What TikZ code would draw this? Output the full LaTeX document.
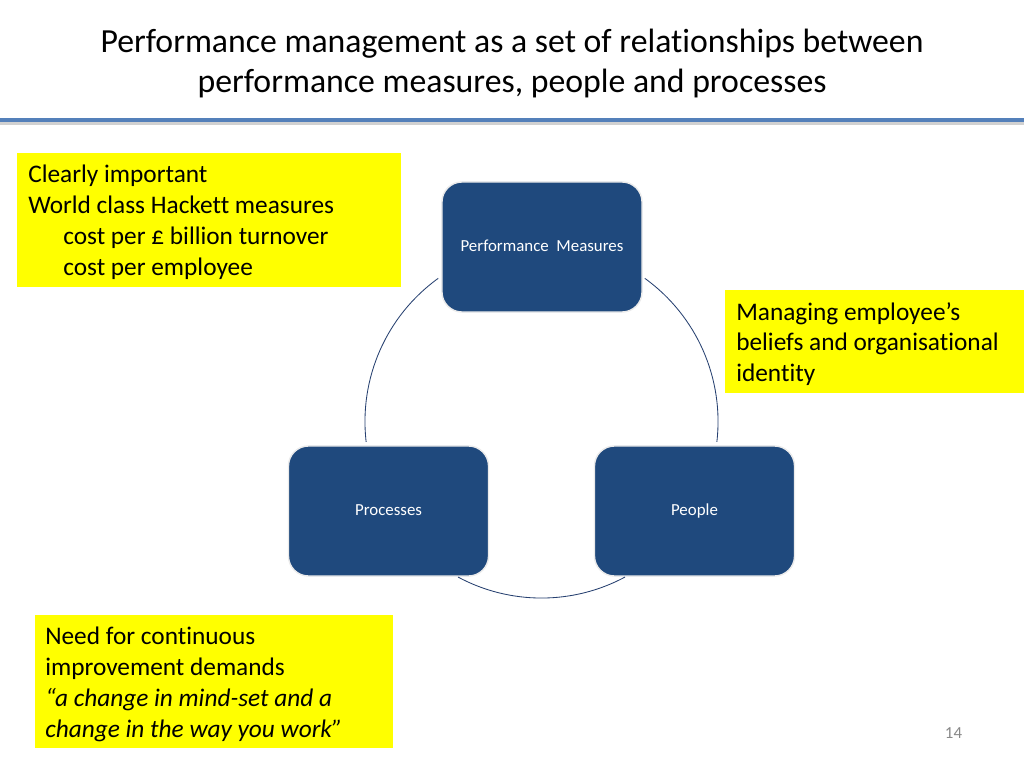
\documentclass[tikz,border=0pt]{standalone}
\usepackage{fontspec}
\setmainfont{Carlito}[Ligatures=NoCommon]
\usepackage{tikz}
\usetikzlibrary{positioning}
\usepackage{xcolor}
\definecolor{boxnavy}{RGB}{31,73,125}
\definecolor{arcnavy}{RGB}{38,64,112}
\definecolor{ruleblue}{RGB}{84,128,186}
\definecolor{noteyellow}{RGB}{255,255,0}
\definecolor{pagegray}{RGB}{137,137,137}

\begin{document}
\begin{tikzpicture}[
    x=0.025cm, y=-0.025cm,
    stage/.style={rectangle, rounded corners=0.5cm, fill=boxnavy, draw=black!8,
                  line width=1pt, minimum width=5cm, minimum height=3.25cm,
                  text height=1.6ex, text depth=0.4ex,
                  text=white, font=\fontsize{12}{14}\selectfont},
    notebox/.style={rectangle, fill=noteyellow, inner sep=0pt, anchor=north west},
    notetext/.style={anchor=north west, align=left, inner sep=0pt,
                     font=\fontsize{18}{21.9}\selectfont},
    link/.style={arcnavy, line width=0.6pt}
]
    \useasboundingbox[fill=white] (0,0) rectangle (1024,768);

    % Title and rule
    \node[align=center, font=\fontsize{24}{28.5}\selectfont, anchor=base] (title) at (512,93)
        {Performance management as a set of relationships between\\
         performance measures, people and processes};
    \coordinate (ruleL) at (0,120);
    \coordinate (ruleR) at (1024,120);
    \draw[black!18, line width=2.5pt] ([yshift=-2.5pt]ruleL) -- ([yshift=-2.5pt]ruleR);
    \draw[ruleblue, line width=2.2pt] (ruleL) -- (ruleR);

    % Cycle
    \node[stage] (measures) at (542,247) {Performance\ \ Measures};
    \node[stage] (processes) at (388.5,511) {Processes};
    \node[stage] (people) at (694.5,511) {People};
    \coordinate (hub) at (541.5,421.5);
    \draw[link] (hub) ++(125.8:4.4125cm) arc[start angle=125.8, end angle=186.6, radius=4.4125cm];
    \draw[link] (hub) ++(54.2:4.4125cm) arc[start angle=54.2, end angle=-6.6, radius=4.4125cm];
    \draw[link] (hub) ++(241.8:4.4125cm) arc[start angle=241.8, end angle=298.2, radius=4.4125cm];

    % Notes
    \node[notebox, minimum width=9.6cm, minimum height=3.35cm] (hackettbox) at (17,153) {};
    \node[notetext] (hackett) at (28,165)
        {Clearly important\\
         World class Hackett measures\\
         \hspace*{0.875cm}cost per £ billion turnover\\
         \hspace*{0.875cm}cost per employee};

    \node[notebox, minimum width=7.475cm, minimum height=2.575cm] (beliefsbox) at (725,290) {};
    \node[notetext] (beliefs) at (736,302)
        {Managing employee’s\\
         beliefs and organisational\\
         identity};

    \node[notebox, minimum width=8.95cm, minimum height=3.325cm] (improvebox) at (34.5,615) {};
    \node[notetext] (improve) at (45,627)
        {Need for continuous\\
         improvement demands\\
         \textit{“a change in mind-set and a}\\
         \textit{change in the way you work”}};

    % Page number
    \node[text=pagegray, font=\fontsize{12}{14}\selectfont, anchor=base] (pageno) at (953.5,738) {14};
\end{tikzpicture}
\end{document}
